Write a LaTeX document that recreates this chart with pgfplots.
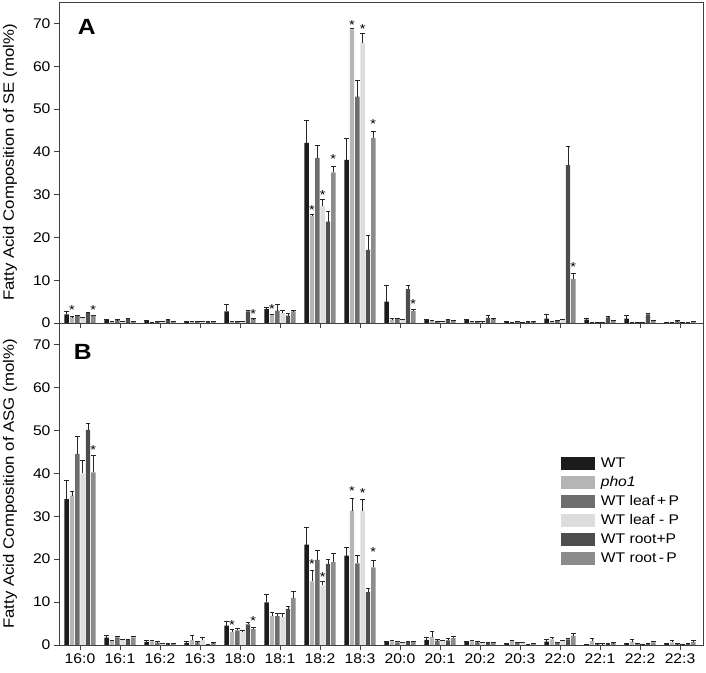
\documentclass[border=0pt]{standalone}
\usepackage{fontspec}
\setmainfont{Liberation Sans}[FakeStretch=1.12]
\usepackage{pgfplots}
\usepackage{pgfplotstable}
\pgfplotsset{compat=1.18}

\definecolor{cWT}{HTML}{1C1C1C}
\definecolor{cPho}{HTML}{B5B5B5}
\definecolor{cLP}{HTML}{6E6E6E}
\definecolor{cLM}{HTML}{DDDDDD}
\definecolor{cRP}{HTML}{4D4D4D}
\definecolor{cRM}{HTML}{8C8C8C}

% SE (panel A): value and SD for each line
\pgfplotstableread{
x  wt   wte  pho  phoe lp   lpe  lm   lme  rp   rpe  rm   rme
0  2.0  0.7  1.3  0.2  1.6  0.2  1.2  0.1  2.3  0.2  1.7  0.2
1  0.7  0.1  0.3  0.1  0.7  0.1  0.3  0.1  0.9  0.2  0.3  0.1
2  0.5  0.1  0.15 0.1  0.2  0.1  0.25 0.1  0.7  0.1  0.3  0.1
3  0.4  0.1  0.3  0.1  0.3  0.1  0.4  0.1  0.25 0.1  0.25 0.1
4  2.7  1.6  0.4  0.1  0.4  0.1  0.4  0.1  2.7  0.3  0.9  0.1
5  3.3  0.4  1.9  0.2  2.9  1.4  2.3  0.6  1.7  0.5  2.7  0.2
6  42.1 5.2  25.0 0.5  38.6 3.0  27.3 1.5  23.7 2.4  35.2 1.5
7  38.1 5.1  68.6 0.3  52.9 3.7  65.5 2.2  17.1 3.4  43.2 1.6
8  5.0  3.8  0.8  0.2  1.0  0.2  0.8  0.1  7.9  0.9  2.8  0.3
9  0.8  0.1  0.55 0.1  0.4  0.1  0.4  0.1  0.8  0.1  0.5  0.1
10 0.7  0.1  0.4  0.1  0.25 0.1  0.2  0.1  1.2  0.5  0.9  0.1
11 0.3  0.1  0.15 0.1  0.3  0.1  0.1  0.1  0.2  0.1  0.2  0.1
12 1.0  1.1  0.25 0.1  0.6  0.1  0.7  0.2  36.9 4.4  10.3 1.3
13 0.8  0.4  0.15 0.1  0.15 0.1  0.15 0.1  1.3  0.2  0.55 0.1
14 1.0  0.7  0.15 0.1  0.15 0.1  0.15 0.1  2.0  0.3  0.6  0.1
15 0.15 0.1  0.15 0.1  0.45 0.1  0.1  0.1  0.1  0.1  0.25 0.1
}\dataA

% ASG (panel B)
\pgfplotstableread{
x  wt   wte  pho  phoe lp   lpe  lm   lme  rp   rpe  rm   rme
0  34.0 4.4  34.8 1.1  44.5 4.1  40.0 3.0  50.1 1.5  40.2 3.9
1  1.7  0.5  1.0  0.2  1.8  0.2  1.3  0.1  1.2  0.1  1.8  0.2
2  0.7  0.3  0.85 0.3  0.55 0.3  0.4  0.1  0.2  0.1  0.4  0.1
3  0.5  0.3  1.2  1.0  0.6  0.2  1.2  0.7  0.1  0.1  0.45 0.1
4  4.5  1.1  3.0  0.7  3.4  0.4  3.1  0.3  4.8  0.5  3.7  0.4
5  9.9  2.0  6.8  0.8  6.7  0.7  6.5  0.9  8.4  0.5  11.0 1.6
6  23.4 4.0  14.8 2.5  19.8 2.2  13.9 0.9  18.9 1.0  19.3 2.0
7  20.8 2.0  31.3 2.9  19.0 1.8  31.3 2.6  12.3 0.9  18.1 1.6
8  0.7  0.1  0.85 0.2  0.6  0.3  0.6  0.1  0.8  0.1  0.8  0.1
9  1.2  0.7  1.9  1.2  1.0  0.4  1.0  0.1  1.1  0.5  1.6  0.5
10 0.7  0.1  0.85 0.2  0.6  0.2  0.5  0.1  0.5  0.1  0.5  0.1
11 0.4  0.1  0.9  0.2  0.6  0.1  0.5  0.1  0.15 0.1  0.4  0.1
12 0.8  0.6  1.3  0.6  0.5  0.1  1.0  0.2  1.3  0.3  2.1  0.7
13 0.15 0.1  0.9  0.6  0.2  0.1  0.2  0.1  0.2  0.1  0.45 0.1
14 0.3  0.1  0.8  0.6  0.3  0.1  0.15 0.1  0.3  0.1  0.6  0.3
15 0.3  0.1  0.6  0.5  0.2  0.1  0.15 0.1  0.3  0.1  0.7  0.5
}\dataB

\pgfplotsset{
  panel/.style={
    scale only axis, width=644pt,
    xmin=-0.525, xmax=15.575, ymin=0, ymax=75,
    xtick={0,...,15}, ytick={0,10,...,70},
    tick align=outside, xtick pos=bottom, ytick pos=left,
    major tick length=5pt,
    axis line style={black!75, line width=0.8pt},
    tick style={black!75, line width=0.8pt},
    clip=false,
    /pgf/number format/assume math mode=true,
    xticklabel style={font=\fontsize{14}{16}\selectfont},
    yticklabel style={font=\fontsize{14}{16}\selectfont},
    every axis y label/.style={at={(axis description cs:-0.076,0.5)}, rotate=90,
      anchor=center, font=\fontsize{15}{17}\selectfont},
    legend image code/.code={\fill[##1] (22pt,-6.5pt) rectangle (56pt,6.5pt);},
  },
  % bar at category + offset, error bar drawn at the same place
  bars/.style={ybar, bar width=0.112, bar shift=0pt, fill=#1, draw=none,
    error bars/.cd, y dir=plus, y explicit,
    error bar style={black!85, line width=0.6pt},
    error mark options={rotate=90, black!85, line width=0.6pt, mark size=2.2pt}},
  stars/.style={only marks, mark=text, text mark={\fontsize{13}{13}\selectfont *}, black!85, forget plot},
}

\begin{document}
\begin{tikzpicture}
\begin{axis}[panel, name=A, height=321pt, xticklabels={},
    ylabel={Fatty Acid Composition of SE (mol\%)}]
\addplot[bars=cWT] table[x expr=\thisrow{x}-0.3333, y=wt, y error=wte] {\dataA};
\addplot[bars=cPho] table[x expr=\thisrow{x}-0.2, y=pho, y error=phoe] {\dataA};
\addplot[bars=cLP] table[x expr=\thisrow{x}-0.0667, y=lp, y error=lpe] {\dataA};
\addplot[bars=cLM] table[x expr=\thisrow{x}+0.0667, y=lm, y error=lme] {\dataA};
\addplot[bars=cRP] table[x expr=\thisrow{x}+0.2, y=rp, y error=rpe] {\dataA};
\addplot[bars=cRM] table[x expr=\thisrow{x}+0.3333, y=rm, y error=rme] {\dataA};
\addplot[stars] coordinates {(-0.2,3.1) (0.333,3.1) (4.333,2.0) (4.8,3.3)
  (5.8,26.5) (6.067,30.0) (6.333,38.3) (6.8,69.6) (7.067,68.8) (7.333,46.5)
  (8.333,4.4) (12.333,13.0)};
\node at (rel axis cs:0.043,0.922) {\fontsize{22}{22}\selectfont\bfseries A};
\end{axis}

\begin{axis}[panel, name=B, height=322pt, at={(A.south west)}, anchor=north west,
    xticklabels={16:0,16:1,16:2,16:3,18:0,18:1,18:2,18:3,20:0,20:1,20:2,20:3,22:0,22:1,22:2,22:3},
    ylabel={Fatty Acid Composition of ASG (mol\%)},
    legend style={at={(rel axis cs:0.775,0.593)}, anchor=north west, draw=none, fill=none,
      font=\fontsize{14}{16}\selectfont, row sep=4.5pt,
      nodes={inner ysep=1.5pt, inner xsep=5.5pt}},
    legend cell align=left]
\addplot[bars=cWT] table[x expr=\thisrow{x}-0.3333, y=wt, y error=wte] {\dataB};
\addplot[bars=cPho] table[x expr=\thisrow{x}-0.2, y=pho, y error=phoe] {\dataB};
\addplot[bars=cLP] table[x expr=\thisrow{x}-0.0667, y=lp, y error=lpe] {\dataB};
\addplot[bars=cLM] table[x expr=\thisrow{x}+0.0667, y=lm, y error=lme] {\dataB};
\addplot[bars=cRP] table[x expr=\thisrow{x}+0.2, y=rp, y error=rpe] {\dataB};
\addplot[bars=cRM] table[x expr=\thisrow{x}+0.3333, y=rm, y error=rme] {\dataB};
\addplot[stars] coordinates {(0.333,45.5) (3.8,4.7) (4.333,5.5) (5.8,18.8)
  (6.067,15.9) (6.8,35.9) (7.067,35.4) (7.333,21.6)};
\legend{WT, \textit{pho1}, WT leaf\,+\,P, WT leaf - P, WT root+P, WT root\,-\,P}
\node at (rel axis cs:0.037,0.91) {\fontsize{22}{22}\selectfont\bfseries B};
\end{axis}

\pgfresetboundingbox
\path[use as bounding box] ([shift={(-59pt,2pt)}]A.north west) rectangle ([shift={(3pt,-28pt)}]B.south east);
\end{tikzpicture}
\end{document}
